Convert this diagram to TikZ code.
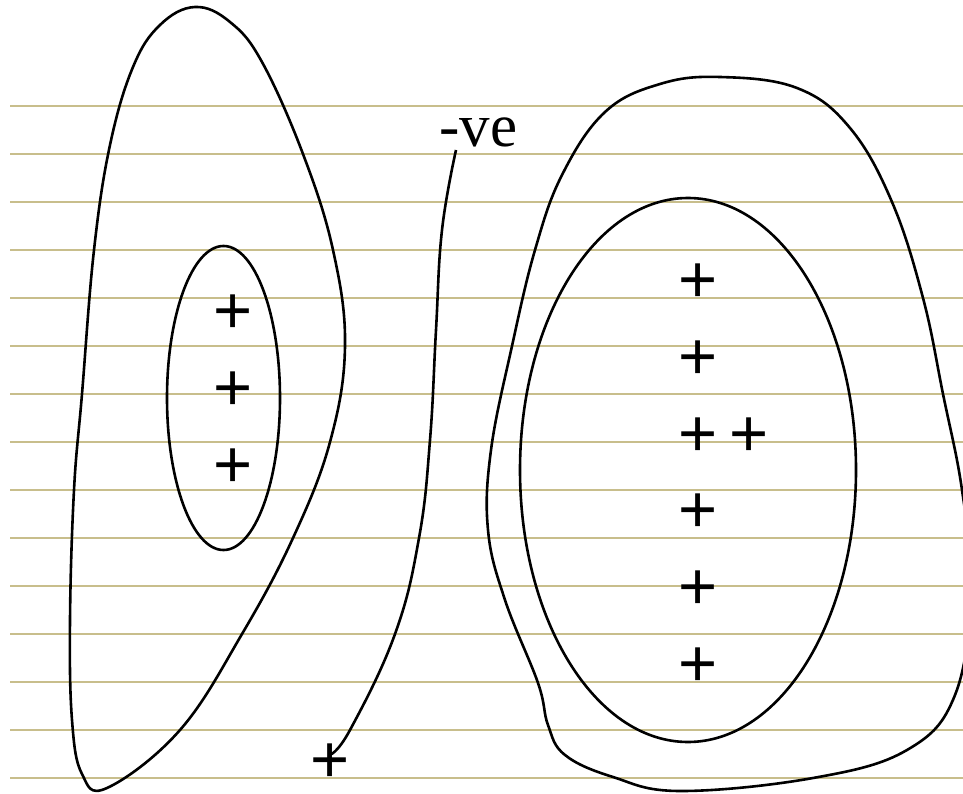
\documentclass[tikz,border=0pt]{standalone}
\usepackage{fontspec}
\setmainfont{Liberation Serif}
\newfontfamily\plusfont{Liberation Sans}
\usetikzlibrary{positioning,calc}
\definecolor{ruled}{RGB}{200,190,140}

\begin{document}
\begin{tikzpicture}[
    x=1pt, y=-1pt,
    contour/.style={draw=black, line width=2.6pt, line join=round},
    ruleline/.style={draw=ruled, line width=2.3pt},
    plussign/.style={font=\plusfont\fontsize{67}{67}\selectfont, inner sep=0pt, anchor=base},
    signlbl/.style={font=\fontsize{61}{61}\selectfont, inner sep=0pt, anchor=base west}]
  \fill[white] (0,0) rectangle (963,794);
  \useasboundingbox (0,0) rectangle (963,794);
  %% Ruled lines
  \foreach \y in {106,154,...,778}
    \draw[ruleline] (10,\y) -- (963,\y);
  %% Left group
  \draw[contour] plot[smooth cycle, tension=0.65] coordinates {
    (195,7) (230,22) (262,62) (303,154) (333,250) (345,346) (330,442)
    (293,538) (242,634) (180,730) (107,788) (82,774) (72,720)
    (70,620) (74,490) (82,394) (94,250) (110,145) (133,67) (160,25)};
  \draw[contour] (223.5,398) ellipse [x radius=56.5, y radius=152];
  \foreach \y [count=\i] in {309,386,463}
    \node[plussign] (pL\i) at (233,\y+24) {+};
  %% Right group
  \draw[contour] plot[smooth cycle, tension=0.65] coordinates {
    (720,77) (797,88) (850,128) (892,202) (923,298) (943,394) (962,490)
    (971,590) (955,695) (907,750) (813,778) (680,791) (613,777) (565,755)
    (548,725) (538,683) (505,600) (488,530) (491,450) (512,346) (535,250)
    (562,175) (605,112) (660,84)};
  \draw[contour] (688,470) ellipse [x radius=168, y radius=272];
  \foreach \y [count=\i] in {278,355,432,508,585,662}
    \node[plussign] (pR\i) at (698,\y+24) {+};
  \node[plussign] (pX) at (749,456) {+};
  %% Negative label and its lead
  \node[signlbl] (neg) at (439,147) {-ve};
  \node[plussign] (pB) at (330,782) {+};
  \draw[contour] plot[smooth, tension=0.7] coordinates {
    ([xshift=17pt,yshift=-3pt]neg.base west) (442,230) (436,330) (430,440)
    (419,538) (395,634) (350,730) ([yshift=8pt]pB.center)};
\end{tikzpicture}
\end{document}
